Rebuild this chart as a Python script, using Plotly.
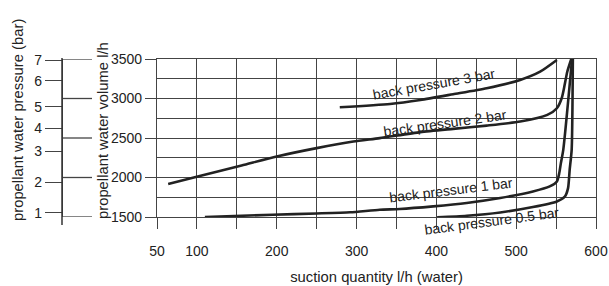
import plotly.graph_objects as go

# ---- data ----
bp3_x = [279, 342, 380, 421, 463, 505, 530, 551]
bp3_y = [2890, 2931, 2982, 3054, 3130, 3235, 3339, 3487]

bp2_x = [64, 106, 156, 200, 250, 296, 329, 380, 421, 463, 505, 539, 551, 557, 560, 564, 569]
bp2_y = [1917, 2026, 2152, 2266, 2372, 2455, 2498, 2574, 2616, 2657, 2708, 2792, 2877, 3003, 3134, 3339, 3500]

bp1_x = [110, 195, 250, 292, 329, 354, 396, 438, 480, 521, 542, 551, 554, 556, 559, 570]
bp1_y = [1500, 1529, 1545, 1560, 1592, 1601, 1634, 1677, 1740, 1823, 1887, 1950, 2056, 2182, 2350, 3500]

bp05_x = [401, 438, 480, 521, 551, 561, 565, 567, 569.5, 571]
bp05_y = [1495, 1516, 1558, 1626, 1697, 1760, 1866, 2098, 2350, 3500]

curve_labels = ["back pressure 3 bar", "back pressure 2 bar", "back pressure 1 bar", "back pressure 0.5 bar"]
label_x = [397, 411, 418, 470]
label_y = [3184, 2691, 1845, 1500]
label_shift = [0, 0, 0, -4]
label_angle = [-10, -8, -7, -7.5]

x_ticks = [50, 100, 150, 200, 250, 300, 350, 400, 450, 500, 550, 600]
x_tick_text = ["50", "100", "", "200", "", "300", "", "400", "", "500", "", "600"]

vol_ticks = [1500, 2000, 2500, 3000, 3500]
pressure_labels = ["1", "2", "3", "4", "5", "6", "7"]
pressure_vol_equiv = [1551, 1937, 2329, 2624, 2897, 3226, 3487]

FONT = "Arial, Liberation Sans, sans-serif"
INK = "#222222"
GRID = "#444444"

W, H = 609, 286
ML, MR, MT, MB = 0, 13, 59, 69
PW = W - ML - MR
PH = H - MT - MB

def px(xp):
    return (xp - ML) / PW

def py(yp):
    return (H - MB - yp) / PH

fig = go.Figure()
for xs, ys in [(bp3_x, bp3_y), (bp2_x, bp2_y), (bp1_x, bp1_y), (bp05_x, bp05_y)]:
    fig.add_trace(go.Scatter(x=xs, y=ys, mode="lines",
                             line=dict(color=INK, width=2.6, shape="spline", smoothing=0.6),
                             showlegend=False, hoverinfo="skip"))

# dummy trace on pressure axis so it renders
fig.add_trace(go.Scatter(x=[None], y=[None], yaxis="y2", showlegend=False))

for t, xx, yy, a, s in zip(curve_labels, label_x, label_y, label_angle, label_shift):
    fig.add_annotation(x=xx, y=yy, xref="x", yref="y", text=t, showarrow=False, yshift=s,
                       textangle=a, font=dict(family=FONT, size=14, color=INK))

# axis titles
fig.add_annotation(x=px(103), y=py(131), xref="paper", yref="paper", text="propellant water volume l/h",
                   showarrow=False, textangle=-90, font=dict(family=FONT, size=14.8, color=INK),
                   xanchor="center", yanchor="middle")
fig.add_annotation(x=px(18), y=py(120), xref="paper", yref="paper", text="propellant water pressure (bar)",
                   showarrow=False, textangle=-90, font=dict(family=FONT, size=14.8, color=INK),
                   xanchor="center", yanchor="middle")

# connector lines between pressure axis and volume axis
for v in vol_ticks:
    fig.add_shape(type="line", xref="paper", yref="y", x0=px(62), x1=px(92), y0=v, y1=v,
                  line=dict(color=GRID, width=1.3))
# pressure axis vertical line
fig.add_shape(type="line", xref="paper", yref="paper", x0=px(62), x1=px(62),
              y0=py(58), y1=py(225), line=dict(color="#333333", width=1.5), layer="above")

fig.update_layout(
    width=W, height=H,
    margin=dict(l=ML, r=MR, t=MT, b=MB, autoexpand=False),
    paper_bgcolor="white", plot_bgcolor="white",
    font=dict(family=FONT, size=14, color=INK),
    xaxis=dict(domain=[px(157), 1], range=[50, 600], tickvals=x_ticks, ticktext=x_tick_text,
               showgrid=True, gridcolor=GRID, gridwidth=1.2, ticks="outside", ticklen=11,
               tickcolor=GRID, tickwidth=1.2, showline=True, linecolor=GRID, linewidth=1.2,
               mirror=True, zeroline=False, ticklabelstandoff=10,
               title=dict(text="suction quantity l/h (water)", font=dict(size=14.8), standoff=13)),
    yaxis=dict(range=[1500, 3500], tickvals=vol_ticks, showgrid=True, gridcolor=GRID, gridwidth=1.2,
               ticks="outside", ticklen=11, tickcolor=GRID, tickwidth=1.2,
               showline=True, linecolor=GRID, linewidth=1.2, mirror=True, zeroline=False,
               minor=dict(dtick=250, tick0=1500, showgrid=True, gridcolor=GRID, gridwidth=1.2, ticks="")),
    yaxis2=dict(range=[1500, 3500], overlaying="y", anchor="free", position=px(62), side="left",
                tickvals=pressure_vol_equiv, ticktext=pressure_labels, ticks="outside", ticklen=17,
                tickcolor=GRID, tickwidth=1.2, showgrid=False, showline=True, linecolor=GRID,
                linewidth=1.3, zeroline=False),
)

fig.write_html("out.html", config={"displayModeBar": False},
               post_script="document.body.style.margin='0px';document.body.style.overflow='hidden';")
